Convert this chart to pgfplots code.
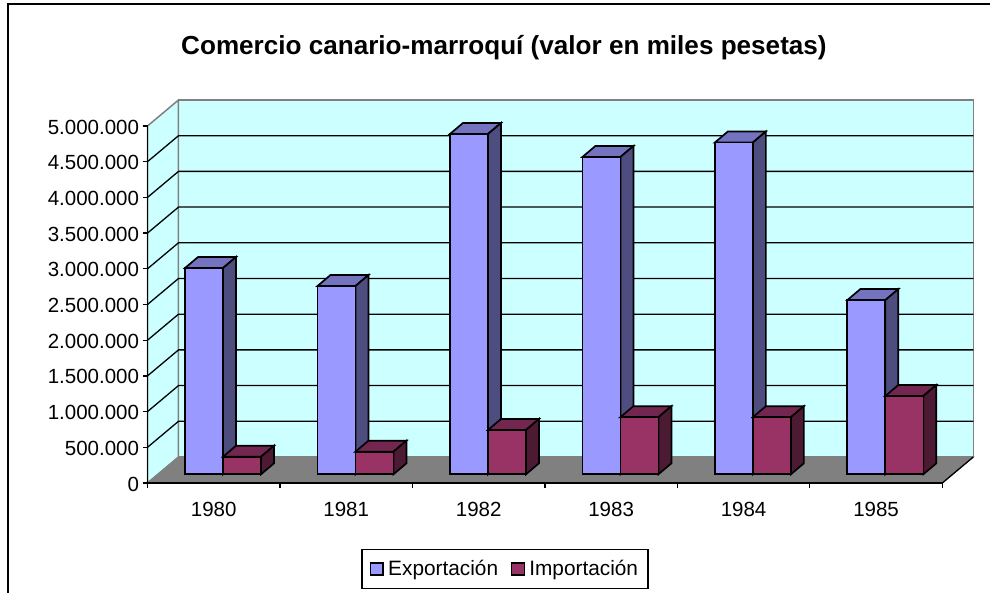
\documentclass[border=0pt]{standalone}
\usepackage{fontspec}
\setmainfont{Liberation Sans}
\usepackage{pgfplots}
\pgfplotsset{compat=1.18}
\definecolor{wall}{HTML}{CCFFFF}
\definecolor{floorc}{HTML}{808080}
\definecolor{expF}{HTML}{9999FF}
\definecolor{expT}{HTML}{7373BF}
\definecolor{expS}{HTML}{4D4D80}
\definecolor{impF}{HTML}{993366}
\definecolor{impT}{HTML}{732650}
\definecolor{impS}{HTML}{4D1A33}
% face of a 3D bar: #1 left x, #2 value, #3 fill, then a/h/d vertices (width, height, depth)
\newcommand\face[4]{\addplot[forget plot,no marks,fill=#3,draw=black,line width=1.7pt,line join=miter]
  table[row sep=\\,x expr={#1+\thisrow{a}*0.2869+\thisrow{d}*0.0981},
        y expr={121849+#2*\thisrow{h}+\thisrow{d}*154062}]{a h d\\#4} --cycle;}
\newcommand\threedbar[5]{%
  \face{#1}{#2}{#4}{0 1 0\\1 1 0\\1 1 1\\0 1 1\\}%
  \face{#1}{#2}{#5}{1 0 0\\1 0 1\\1 1 1\\1 1 0\\}%
  \face{#1}{#2}{#3}{0 0 0\\1 0 0\\1 1 0\\0 1 0\\}}
\newcommand\gridline[1]{\addplot[forget plot,no marks,black,line width=1.3pt]
  coordinates {(0,#1) (0.234,#1+364146) (6.234,#1+364146)};}
\begin{document}
\begin{tikzpicture}
\path[use as bounding box] (0,0) rectangle (990pt,593pt);
\draw[black,line width=2pt] (8pt,0pt) -- (8pt,589pt) -- (990pt,589pt);
\begin{axis}[at={(147.5pt,110pt)},anchor=south west,scale only axis,
  width=794.8pt,height=357pt,clip=false,axis on top,
  xmin=0,xmax=6,ymin=0,ymax=5000000,
  axis lines=left,axis line style={-,black,line width=1.3pt},
  xtick={0.5,1.5,2.5,3.5,4.5,5.5},xticklabels={1980,1981,1982,1983,1984,1985},
  minor xtick={0,1,2,3,4,5,6},
  ytick distance=500000,scaled y ticks=false,
  major x tick style={draw=none},
  minor tick length=5pt,major tick length=5pt,tick align=outside,
  tick style={black,line width=1.3pt},
  tick label style={font=\fontsize{20.5}{24}\selectfont},
  xticklabel style={yshift=-11pt},
  yticklabel style={yshift=-1pt,/pgf/number format/.cd,fixed,precision=0,1000 sep={.},min exponent for 1000 sep=0,assume math mode=true},
  title={\fontsize{26.1}{30}\selectfont\bfseries Comercio canario-marroquí (valor en miles pesetas)},
  title style={at={(axis description cs:0.4485,1.2016)},anchor=center},
  legend columns=2,
  legend style={at={(axis description cs:0.4498,-0.241)},anchor=center,draw=black,line width=1.3pt,
    font=\fontsize{20.8}{24}\selectfont,inner xsep=8pt,inner ysep=9pt,
    /tikz/every even column/.append style={column sep=11pt}},
  legend cell align=left,
  legend image code/.code={\draw[#1,line width=1.3pt] (0pt,-6pt) rectangle (12.5pt,6pt);\path (15pt,0pt);},
]
% walls and floor
\addplot[forget plot,no marks,fill=wall,draw=floorc,line width=1.5pt]
  coordinates {(0.234,364146) (6.234,364146) (6.234,5364146) (0.234,5364146)} --cycle;
\addplot[forget plot,no marks,fill=wall,draw=floorc,line width=1.5pt]
  coordinates {(0,0) (0.234,364146) (0.234,5364146) (0,5000000)} --cycle;
\addplot[forget plot,no marks,fill=floorc,draw=floorc,line width=1pt]
  coordinates {(0,0) (6,0) (6.234,364146) (0.234,364146)} --cycle;
\addplot[forget plot,no marks,black,line width=1.3pt] coordinates {(6,0) (6.234,364146)};
\gridline{500000}\gridline{1000000}\gridline{1500000}\gridline{2000000}\gridline{2500000}
\gridline{3000000}\gridline{3500000}\gridline{4000000}\gridline{4500000}
% bars, back to front within each year
\threedbar{0.2831}{2889000}{expF}{expT}{expS}
\threedbar{0.5700}{246000}{impF}{impT}{impS}
\threedbar{1.2831}{2637000}{expF}{expT}{expS}
\threedbar{1.5700}{317000}{impF}{impT}{impS}
\threedbar{2.2831}{4766000}{expF}{expT}{expS}
\threedbar{2.5700}{620000}{impF}{impT}{impS}
\threedbar{3.2831}{4444000}{expF}{expT}{expS}
\threedbar{3.5700}{800000}{impF}{impT}{impS}
\threedbar{4.2831}{4647000}{expF}{expT}{expS}
\threedbar{4.5700}{800000}{impF}{impT}{impS}
\threedbar{5.2831}{2440000}{expF}{expT}{expS}
\threedbar{5.5700}{1097000}{impF}{impT}{impS}
\addlegendimage{fill=expF,draw=black}
\addlegendentry{Exportación}
\addlegendimage{fill=impF,draw=black}
\addlegendentry{Importación}
\end{axis}
\end{tikzpicture}
\end{document}
